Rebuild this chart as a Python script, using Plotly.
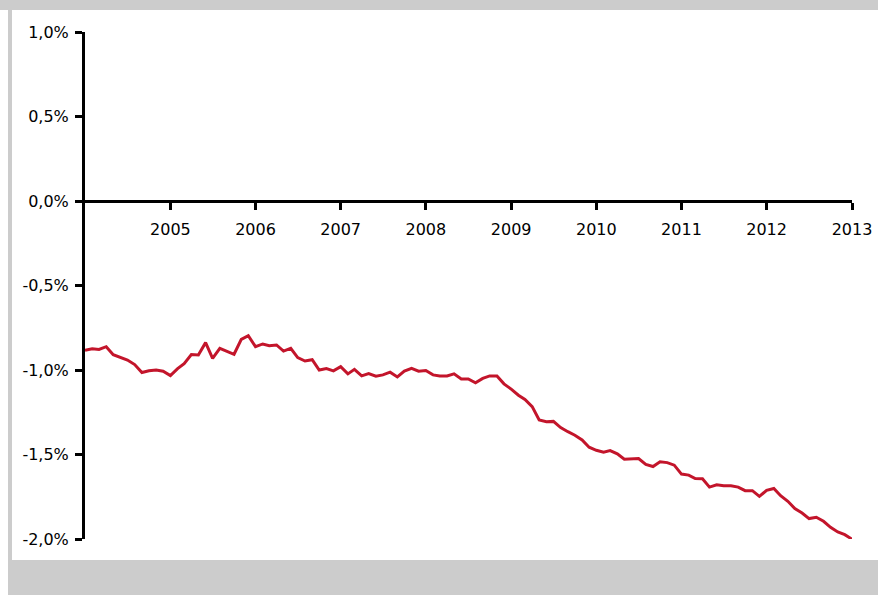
import pandas as pd
import plotly.graph_objects as go

# monthly values in %, Jan 2004 .. Jan 2013
v2004 = [-0.884, -0.874, -0.878, -0.862, -0.909, -0.923, -0.941, -0.968, -1.015, -1.005, -1.000, -1.007]
v2005 = [-1.033, -0.992, -0.962, -0.909, -0.911, -0.838, -0.931, -0.872, -0.891, -0.907, -0.819, -0.797]
v2006 = [-0.862, -0.846, -0.856, -0.852, -0.888, -0.872, -0.927, -0.947, -0.939, -1.000, -0.992, -1.005]
v2007 = [-0.980, -1.023, -0.996, -1.035, -1.021, -1.037, -1.029, -1.013, -1.041, -1.007, -0.990, -1.007]
v2008 = [-1.003, -1.029, -1.035, -1.035, -1.023, -1.053, -1.053, -1.076, -1.050, -1.035, -1.035, -1.082]
v2009 = [-1.113, -1.149, -1.174, -1.217, -1.296, -1.306, -1.304, -1.341, -1.365, -1.386, -1.414, -1.457]
v2010 = [-1.475, -1.486, -1.477, -1.496, -1.528, -1.524, -1.524, -1.559, -1.571, -1.543, -1.548, -1.563]
v2011 = [-1.616, -1.622, -1.642, -1.644, -1.693, -1.679, -1.685, -1.685, -1.693, -1.714, -1.714, -1.748]
v2012 = [-1.712, -1.701, -1.744, -1.777, -1.820, -1.846, -1.879, -1.871, -1.895, -1.931, -1.958, -1.974]
v2013 = [-2.001]

values = v2004 + v2005 + v2006 + v2007 + v2008 + v2009 + v2010 + v2011 + v2012 + v2013
dates = pd.date_range("2004-01-01", periods=len(values), freq="MS")

year_ticks = ["2005", "2006", "2007", "2008", "2009", "2010", "2011", "2012", "2013"]
y_ticks = [1.0, 0.5, 0.0, -0.5, -1.0, -1.5, -2.0]
y_labels = ["1,0%", "0,5%", "0,0%", "-0,5%", "-1,0%", "-1,5%", "-2,0%"]

fig = go.Figure()
fig.add_trace(go.Scatter(x=dates, y=values, mode="lines",
                         line=dict(color="#C3152B", width=3),
                         cliponaxis=False, showlegend=False))

font = dict(family="DejaVu Sans", size=16, color="black")

fig.update_layout(
    width=878, height=595,
    margin=dict(l=85, r=26, t=32, b=56, autoexpand=False),
    paper_bgcolor="white", plot_bgcolor="white",
    font=font,
    xaxis=dict(range=["2004-01-01", "2013-01-01"],
               tickvals=[y + "-01-01" for y in year_ticks], ticktext=year_ticks,
               showline=True, linewidth=3, linecolor="black",
               ticks="outside", ticklen=7, tickwidth=3, tickcolor="black",
               ticklabelstandoff=6, automargin=False,
               showgrid=False, zeroline=False,
               anchor="free", position=2 / 3),
    yaxis=dict(range=[-2, 1], tickvals=y_ticks, ticktext=y_labels,
               showline=True, linewidth=3, linecolor="black",
               ticks="outside", ticklen=7, tickwidth=3, tickcolor="black",
               ticklabelstandoff=3, automargin=False,
               showgrid=False, zeroline=False),
)

# grey frame around the chart
grey = "#CCCCCC"
pw, ph = 767, 507
def px_x(x):
    return (x - 85) / pw
def px_y(y):
    return 1 - (y - 32) / ph
for x0, y0, x1, y1 in [(0, 0, 878, 10), (8, 10, 12, 560), (8, 560, 878, 595)]:
    fig.add_shape(type="rect", xref="paper", yref="paper",
                  x0=px_x(x0), x1=px_x(x1), y0=px_y(y1), y1=px_y(y0),
                  fillcolor=grey, line_width=0, layer="below")

fig.write_html("out.html",
               config={"displayModeBar": False, "responsive": False},
               post_script="document.body.style.margin='0';")
